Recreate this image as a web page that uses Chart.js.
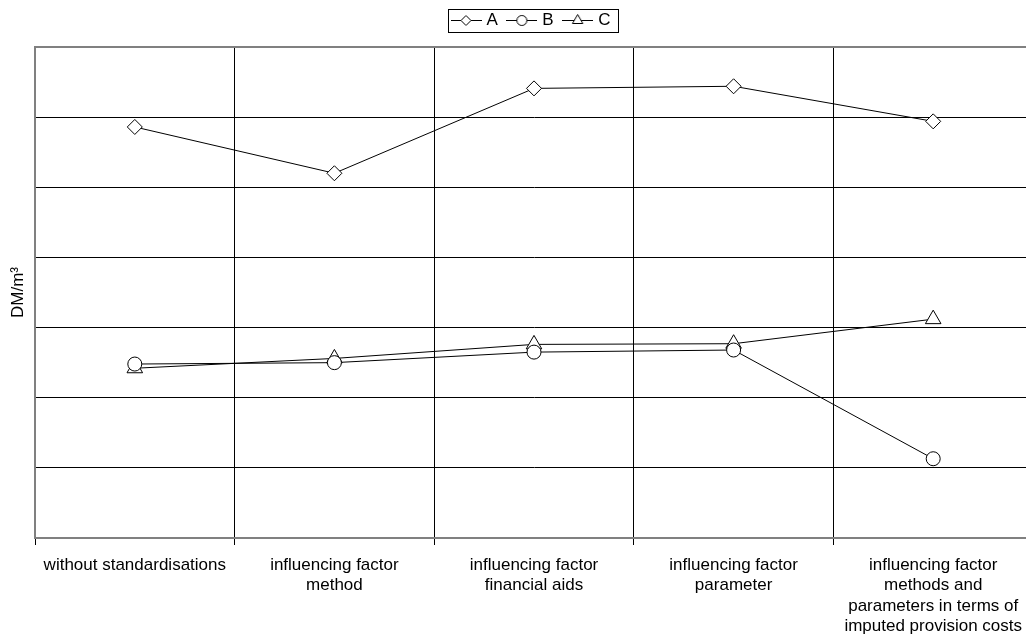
<!DOCTYPE html>
<html>
<head>
<meta charset="utf-8">
<script src="https://cdn.jsdelivr.net/npm/chart.js@4.4.1/dist/chart.umd.min.js"></script>
<style>
  html, body { margin: 0; padding: 0; background: #fff; overflow: hidden; width: 1026px; height: 636px; }
  #wrap { width: 1026px; height: 636px; overflow: hidden; position: relative; }
  #chart { position: absolute; left: 0; top: 0; }
</style>
</head>
<body>
<!-- the plot runs a few pixels past the right edge, as in the original -->
<div id="wrap"><canvas id="chart" width="1033" height="636"></canvas></div>
<script>
// categories and series (DM/m³, axis 0..7 without labels)
var categories = [
  'without standardisations',
  ['influencing factor', 'method'],
  ['influencing factor', 'financial aids'],
  ['influencing factor', 'parameter'],
  ['influencing factor', 'methods and', 'parameters in terms of', 'imputed provision costs']
];
var seriesA = [5.86, 5.20, 6.41, 6.44, 5.94];
var seriesB = [2.48, 2.50, 2.65, 2.68, 1.13];
var seriesC = [2.42, 2.56, 2.76, 2.77, 3.12];
var yMin = 0, yMax = 7, yStep = 1;

var FONT = '"Liberation Sans", Arial, sans-serif';

// little line+marker icons for the legend
function legendIcon(style, r) {
  var c = document.createElement('canvas');
  c.width = 31; c.height = 17;
  var g = c.getContext('2d');
  g.strokeStyle = '#000'; g.fillStyle = '#fff'; g.lineWidth = 1;
  g.beginPath(); g.moveTo(0, 8.5); g.lineTo(31, 8.5); g.stroke();
  var x = 15.5, y = 8.5;
  g.beginPath();
  if (style == 'circle') {
    g.arc(x, y, r, 0, Math.PI * 2);
  } else if (style == 'rectRot') {
    g.moveTo(x, y - r); g.lineTo(x + r, y); g.lineTo(x, y + r); g.lineTo(x - r, y); g.closePath();
  } else {
    g.moveTo(x, y - r); g.lineTo(x + r * 0.866, y + r / 2); g.lineTo(x - r * 0.866, y + r / 2); g.closePath();
  }
  g.fill(); g.stroke();
  return c;
}

function makeSet(label, data, style, radius) {
  return {
    label: label,
    data: data,
    borderColor: '#000',
    borderWidth: 1,
    backgroundColor: '#fff',
    pointStyle: style,
    pointRadius: radius,
    pointHoverRadius: radius,
    pointBackgroundColor: '#fff',
    pointBorderColor: '#000',
    pointBorderWidth: 1,
    tension: 0,
    fill: false,
    icon: legendIcon(style, style == 'triangle' ? 6 : 5)
  };
}

// legend box: left edge wanted near x=448
var legendLeft = 454;
var legendFrame = {
  id: 'legendFrame',
  beforeLayout: function(chart) {
    var lg = chart.legend;
    if (lg && !lg._fixed) {
      var f = lg.fit;
      lg.fit = function() { f.call(this); this.height = 47; };
      lg._fixed = true;
    }
  },
  afterLayout: function(chart) {
    var lg = chart.legend;
    var pad = lg.options.labels.padding;
    var start = (lg.left + pad + lg.right - lg.lineWidths[0]) / 2;
    var dx = legendLeft - start;
    lg.left += dx;
    lg.right += dx;
  },
  afterDraw: function(chart) {
    var hb = chart.legend.legendHitBoxes;
    if (!hb || !hb.length) return;
    var last = hb[hb.length - 1];
    var x1 = Math.round(hb[0].left - 6) + 0.5;
    var x2 = Math.round(last.left + last.width + 8) + 0.5;
    var ctx = chart.ctx;
    ctx.save();
    ctx.strokeStyle = '#000';
    ctx.lineWidth = 1;
    ctx.strokeRect(x1, 9.5, x2 - x1, 23);
    ctx.restore();
  }
};

new Chart(document.getElementById('chart'), {
  type: 'line',
  data: {
    labels: categories,
    datasets: [
      makeSet('A', seriesA, 'rectRot', 7.5),
      makeSet('B', seriesB, 'circle', 7),
      makeSet('C', seriesC, 'triangle', 9)
    ]
  },
  options: {
    responsive: false,
    animation: false,
    layout: { padding: 0, autoPadding: false },
    plugins: {
      tooltip: { enabled: false },
      legend: {
        position: 'top',
        labels: {
          color: '#000',
          font: { family: FONT, size: 17 },
          padding: 12,
          usePointStyle: true,
          pointStyleWidth: 24,
          generateLabels: function(chart) {
            return chart.data.datasets.map(function(ds, i) {
              return {
                text: ds.label,
                pointStyle: ds.icon,
                fillStyle: '#fff',
                strokeStyle: '#000',
                lineWidth: 1,
                hidden: false,
                datasetIndex: i,
                fontColor: '#000'
              };
            });
          }
        }
      }
    },
    scales: {
      x: {
        offset: true,
        grid: {
          offset: true,
          color: function(c) { return c.index === 0 ? '#808080' : '#000'; },
          lineWidth: 1,
          drawTicks: true,
          tickLength: 7,
          tickColor: '#000'
        },
        border: { display: true, color: '#808080', width: 2 },
        ticks: {
          color: '#000',
          font: { family: FONT, size: 17, lineHeight: 1.2 },
          padding: 10,
          maxRotation: 0,
          autoSkip: false
        },
        afterFit: function(s) {
          s.height = 98;
          s.paddingLeft = 0;
          s.paddingRight = 0;
        }
      },
      y: {
        min: yMin,
        max: yMax,
        ticks: { stepSize: yStep, display: false },
        grid: {
          drawTicks: false,
          color: function(c) {
            var v = c.tick ? c.tick.value : 0;
            return (v === yMax || v === yMin) ? '#808080' : '#000';
          },
          lineWidth: function(c) {
            var v = c.tick ? c.tick.value : 0;
            return (v === yMax || v === yMin) ? 2 : 1;
          }
        },
        border: { display: true, color: '#808080', width: 2 },
        title: {
          display: true,
          text: 'DM/m³',
          color: '#000',
          font: { family: FONT, size: 17 },
          padding: { top: 8, bottom: 0 }
        },
        afterFit: function(s) { s.width = 35; }
      }
    }
  },
  plugins: [legendFrame]
});
</script>
</body>
</html>
